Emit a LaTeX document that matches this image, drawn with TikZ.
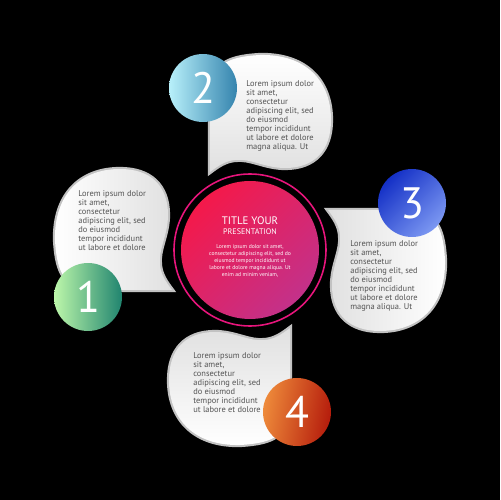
\documentclass[tikz,border=0pt]{standalone}
\usepackage{fontspec}
\setmainfont{PT Sans}
\usetikzlibrary{positioning}

\definecolor{ringpink}{HTML}{E8157C}
\definecolor{hubred}{HTML}{F4194A}
\definecolor{hubmagenta}{HTML}{C3318A}
\definecolor{bodygray}{HTML}{545454}
\definecolor{rimgray}{HTML}{C2C2C2}
\definecolor{oneA}{HTML}{BDF7AA}
\definecolor{oneB}{HTML}{20846F}
\definecolor{twoA}{HTML}{B8F0FA}
\definecolor{twoB}{HTML}{3584AE}
\definecolor{threeA}{HTML}{1430C6}
\definecolor{threeB}{HTML}{7C98F2}
\definecolor{fourA}{HTML}{EE8A3A}
\definecolor{fourB}{HTML}{B51C0C}

\begin{document}
\begin{tikzpicture}[
	x=0.02cm,y=0.02cm,
	bubble/.style={
		preaction={draw=rimgray,line width=2.4pt},
		top color=white,
		bottom color=black!12},
	numcircle/.style={
		circle,
		inner sep=0pt,
		minimum size=1.36cm,
		text=white,
		font=\fontsize{25}{25}\selectfont},
	bubbletext/.style={
		align=left,
		anchor=north west,
		inner sep=0pt,
		text=bodygray,
		font=\fontsize{4.8}{5.1}\selectfont},
	hub/.style={
		circle,
		inner sep=0pt,
		minimum size=2.76cm,
		top color=hubred,
		bottom color=hubmagenta,
		shading angle=45}
	]
	\fill[black] (-250,-250) rectangle (250,250);
	
	% four bubbles, one shape turned round the centre
	\foreach \rot in {0,-90,-180,90}
	\shade[bubble,shading angle=\rot,rotate=\rot]
		(-40,78) -- (-40,150)
		.. controls (-40,185) and (-25,193) .. (10,195)
		.. controls (55,196) and (81,170) .. (81,130)
		.. controls (81,100) and (65,82) .. (35,82)
		.. controls (15,82) and (0,92) .. (-15,90)
		.. controls (-25,89) and (-32,84) .. (-40,78) -- cycle;
	
	% centre
	\draw[ringpink,line width=0.9pt] (0,0) circle[radius=76];
	\node[hub] (hub) at (0,0) {};
	\node[text=white,font=\fontsize{6.2}{6.2}\selectfont] (title) at (0,29) {TITLE YOUR};
	\node[text=white,font=\fontsize{4.6}{4.6}\selectfont] (subtitle) at (0,18) {PRESENTATION};
	\node[text=white,align=center,font=\fontsize{3.2}{4.1}\selectfont] (hubtext) at (0,-11)
		{Lorem ipsum dolor sit amet,\\consectetur adipiscing elit, sed do\\eiusmod tempor incididunt ut\\labore et dolore magna aliqua. Ut\\enim ad minim veniam,};
	
	% texts
	\node[bubbletext] (t1) at (-172,60) {Lorem ipsum dolor\\sit amet,\\consectetur\\adipiscing elit, sed\\do eiusmod\\tempor incididunt\\ut labore et dolore};
	\node[bubbletext] (t2) at (-4,170) {Lorem ipsum dolor\\sit amet,\\consectetur\\adipiscing elit, sed\\do eiusmod\\tempor incididunt\\ut labore et dolore\\magna aliqua. Ut};
	\node[bubbletext] (t3) at (100,10) {Lorem ipsum dolor\\sit amet,\\consectetur\\adipiscing elit, sed\\do eiusmod\\tempor incididunt\\ut labore et dolore\\magna aliqua. Ut};
	\node[bubbletext] (t4) at (-57,-102) {Lorem ipsum dolor\\sit amet,\\consectetur\\adipiscing elit, sed\\do eiusmod\\tempor incididunt\\ut labore et dolore};
	
	% numbered circles
	\node[numcircle,left color=oneA,right color=oneB] (n1) at (-162,-47) {1};
	\node[numcircle,left color=twoA,right color=twoB] (n2) at (-47,162) {2};
	\node[numcircle,left color=threeA,right color=threeB,shading angle=45] (n3) at (162,47) {3};
	\node[numcircle,left color=fourA,right color=fourB,shading angle=80] (n4) at (47,-162) {4};
	
\end{tikzpicture}
\end{document}
